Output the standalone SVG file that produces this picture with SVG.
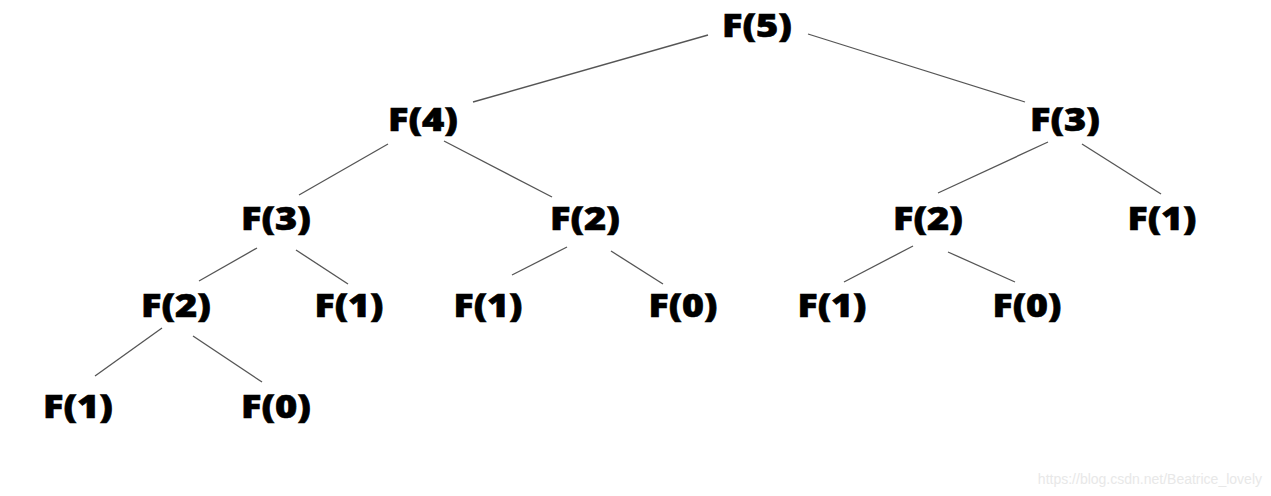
<svg xmlns="http://www.w3.org/2000/svg" width="1271" height="496" viewBox="0 0 1271 496">
<style>
.n text{font-family:"Open Sans","DejaVu Sans",sans-serif;font-weight:800;font-size:32px;text-anchor:middle;fill:#000;stroke:#000;stroke-width:0.6}
.e line{stroke:#555;stroke-width:1.3}
.wm{font-family:"Liberation Sans",Arial,sans-serif;font-size:14px;fill:#e8e8e8;text-anchor:end}
</style>
<rect width="1271" height="496" fill="#fff"/>
<g id="edges" class="e">
<line x1="708" y1="35" x2="473" y2="102"/>
<line x1="808" y1="34" x2="1025" y2="102"/>
<line x1="388" y1="144" x2="299" y2="195"/>
<line x1="444" y1="141" x2="552" y2="197"/>
<line x1="1048" y1="142" x2="938" y2="193"/>
<line x1="1082" y1="144" x2="1161" y2="194"/>
<line x1="257" y1="248" x2="199" y2="281"/>
<line x1="296" y1="250" x2="348" y2="284"/>
<line x1="567" y1="247" x2="512" y2="275"/>
<line x1="611" y1="251" x2="663" y2="284"/>
<line x1="913" y1="246" x2="844" y2="282"/>
<line x1="948" y1="252" x2="1015" y2="282"/>
<line x1="162" y1="328" x2="95" y2="376"/>
<line x1="193" y1="336" x2="262" y2="382"/>
</g>
<g id="f5" class="n"><text x="757" y="37" textLength="70" lengthAdjust="spacingAndGlyphs">F(5)</text></g>
<g id="f4" class="n"><text x="423" y="131" textLength="70" lengthAdjust="spacingAndGlyphs">F(4)</text></g>
<g id="f3r" class="n"><text x="1065" y="131" textLength="70" lengthAdjust="spacingAndGlyphs">F(3)</text></g>
<g id="f3l" class="n"><text x="276" y="230" textLength="70" lengthAdjust="spacingAndGlyphs">F(3)</text></g>
<g id="f2m" class="n"><text x="585" y="230" textLength="70" lengthAdjust="spacingAndGlyphs">F(2)</text></g>
<g id="f2r" class="n"><text x="928" y="230" textLength="70" lengthAdjust="spacingAndGlyphs">F(2)</text></g>
<g id="f1r" class="n"><text x="1162" y="230" textLength="69" lengthAdjust="spacingAndGlyphs">F(1)</text></g>
<g id="f2l" class="n"><text x="176" y="317" textLength="70" lengthAdjust="spacingAndGlyphs">F(2)</text></g>
<g id="f1a" class="n"><text x="349" y="317" textLength="69" lengthAdjust="spacingAndGlyphs">F(1)</text></g>
<g id="f1b" class="n"><text x="488" y="317" textLength="69" lengthAdjust="spacingAndGlyphs">F(1)</text></g>
<g id="f0a" class="n"><text x="683" y="317" textLength="69" lengthAdjust="spacingAndGlyphs">F(0)</text></g>
<g id="f1c" class="n"><text x="832" y="317" textLength="69" lengthAdjust="spacingAndGlyphs">F(1)</text></g>
<g id="f0b" class="n"><text x="1027" y="317" textLength="69" lengthAdjust="spacingAndGlyphs">F(0)</text></g>
<g id="f1d" class="n"><text x="78" y="418" textLength="70" lengthAdjust="spacingAndGlyphs">F(1)</text></g>
<g id="f0c" class="n"><text x="276" y="418" textLength="70" lengthAdjust="spacingAndGlyphs">F(0)</text></g>
<text class="wm" x="1262" y="484">https://blog.csdn.net/Beatrice_lovely</text>
</svg>
